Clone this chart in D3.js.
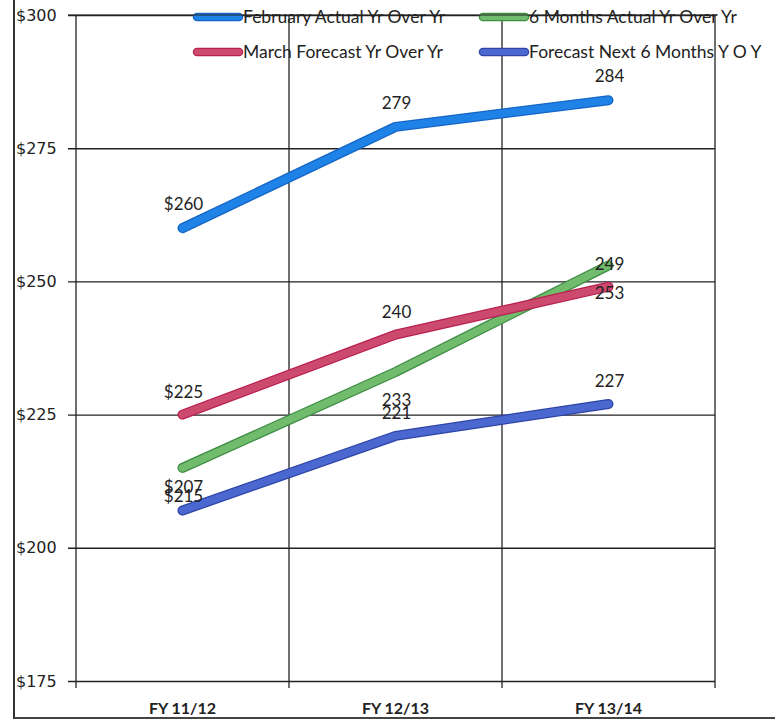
<!DOCTYPE html>
<html>
<head>
<meta charset="utf-8">
<script src="https://cdn.jsdelivr.net/npm/d3@7"></script>
<style>
  body { margin: 0; background: #fff; }
  svg { display: block; }
</style>
</head>
<body>
<svg id="chart" width="775" height="720"></svg>
<script>
// data
const categories = ['FY 11/12', 'FY 12/13', 'FY 13/14'];
const yTicks = [175, 200, 225, 250, 275, 300];

const febActual = [260, 279, 284];
const marchForecast = [225, 240, 249];
const sixMonthsActual = [215, 233, 253];
const forecastNext6 = [207, 221, 227];

const febLabels = ['$260', '279', '284'];
const marchLabels = ['$225', '240', '249'];
const sixLabels = ['$215', '233', '253'];
const nextLabels = ['$207', '221', '227'];

const series = [
  { name: 'February Actual Yr Over Yr', values: febActual, labels: febLabels, color: '#1f82e6', edge: '#1566c4', dy: -24 },
  { name: '6 Months Actual Yr Over Yr', values: sixMonthsActual, labels: sixLabels, color: '#70bb6c', edge: '#3e8d45', dy: 28 },
  { name: 'March Forecast Yr Over Yr', values: marchForecast, labels: marchLabels, color: '#cc4a6e', edge: '#b8204f', dy: -23 },
  { name: 'Forecast Next 6 Months Y O Y', values: forecastNext6, labels: nextLabels, color: '#4a68cf', edge: '#2f44a6', dy: -23 }
];

const plotLeft = 76, plotRight = 715, plotTop = 15, plotBottom = 681;

const svg = d3.select('#chart');

const x = d3.scaleBand()
  .domain(categories)
  .range([plotLeft, plotRight]);

const y = d3.scaleLinear()
  .domain([175, 300])
  .range([plotBottom, plotTop]);

const xc = d => x(d) + x.bandwidth() / 2;

// outer frame (scanned page edge)
svg.append('line').attr('x1', 14).attr('x2', 14).attr('y1', 0).attr('y2', 719)
  .attr('stroke', '#333').attr('stroke-width', 2);
svg.append('line').attr('x1', 14).attr('x2', 775).attr('y1', 718).attr('y2', 718)
  .attr('stroke', '#444').attr('stroke-width', 2);

// horizontal gridlines + y axis
const yAxis = d3.axisLeft(y)
  .tickValues(yTicks)
  .tickSize(-(plotRight - plotLeft))
  .tickSizeOuter(0)
  .tickFormat(d => '$' + d);

const gy = svg.append('g')
  .attr('transform', `translate(${plotLeft},0)`)
  .call(yAxis);
gy.select('.domain').remove();
gy.selectAll('.tick line')
  .attr('x1', -8)
  .attr('stroke', '#222')
  .attr('stroke-width', 1.4);
gy.selectAll('.tick text')
  .attr('x', 16 - plotLeft)
  .attr('text-anchor', 'start')
  .attr('fill', '#222')
  .style('font-family', 'DejaVu Sans, sans-serif')
  .style('font-size', '16px');

// vertical gridlines at band edges
const edges = categories.map(c => x(c)).concat([plotRight]);
svg.append('g').selectAll('line')
  .data(edges)
  .enter().append('line')
    .attr('x1', d => d).attr('x2', d => d)
    .attr('y1', plotTop).attr('y2', plotBottom + 7)
    .attr('stroke', '#222')
    .attr('stroke-width', 1.3);

// category labels
const xAxis = d3.axisBottom(x).tickSize(0);
const gx = svg.append('g')
  .attr('transform', `translate(0,${plotBottom})`)
  .call(xAxis);
gx.select('.domain').remove();
gx.selectAll('.tick text')
  .attr('y', 22)
  .attr('fill', '#222')
  .style('font-family', 'Lato, sans-serif')
  .style('font-weight', 'bold')
  .style('font-size', '16px');

// lines
const line = d3.line()
  .x((d, i) => xc(categories[i]))
  .y(d => y(d));

const gLines = svg.append('g');
series.forEach(s => {
  gLines.append('path')
    .attr('d', line(s.values))
    .attr('fill', 'none')
    .attr('stroke', s.edge)
    .attr('stroke-width', 10)
    .attr('stroke-linecap', 'round')
    .attr('stroke-linejoin', 'round');
  gLines.append('path')
    .attr('d', line(s.values))
    .attr('fill', 'none')
    .attr('stroke', s.color)
    .attr('stroke-width', 7.5)
    .attr('stroke-linecap', 'round')
    .attr('stroke-linejoin', 'round');
});

// data labels
series.forEach(s => {
  svg.append('g').selectAll('text')
    .data(s.values)
    .enter().append('text')
      .attr('x', (d, i) => xc(categories[i]) + 1)
      .attr('y', d => y(d) + s.dy)
      .attr('dy', '0.35em')
      .attr('text-anchor', 'middle')
      .attr('fill', '#222')
      .style('font-family', 'Lato, sans-serif')
      .style('font-size', '17px')
      .text((d, i) => s.labels[i]);
});

// legend
const legendPos = [
  { x: 197, y: 17 },
  { x: 483, y: 17 },
  { x: 197, y: 52 },
  { x: 483, y: 52 }
];
const legend = svg.append('g');
series.forEach((s, i) => {
  const p = legendPos[i];
  legend.append('line')
    .attr('x1', p.x).attr('x2', p.x + 42)
    .attr('y1', p.y).attr('y2', p.y)
    .attr('stroke', s.edge).attr('stroke-width', 8.5)
    .attr('stroke-linecap', 'round');
  legend.append('line')
    .attr('x1', p.x).attr('x2', p.x + 42)
    .attr('y1', p.y).attr('y2', p.y)
    .attr('stroke', s.color).attr('stroke-width', 6)
    .attr('stroke-linecap', 'round');
  legend.append('text')
    .attr('x', p.x + 46)
    .attr('y', p.y)
    .attr('dy', '0.35em')
    .attr('fill', '#222')
    .style('font-family', 'Lato, sans-serif')
    .style('font-size', '17.5px')
    .text(s.name);
});
// the top gridline runs through the first legend row
svg.append('line')
  .attr('x1', plotLeft - 8).attr('x2', plotRight)
  .attr('y1', y(300)).attr('y2', y(300))
  .attr('stroke', '#222').attr('stroke-width', 1.2);
</script>
</body>
</html>
